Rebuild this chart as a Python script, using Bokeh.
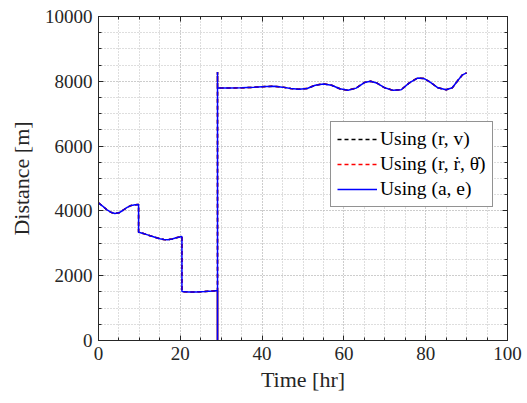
from bokeh.plotting import figure
from bokeh.models import SingleIntervalTicker, LinearAxis, Range1d, Legend, LegendItem, CustomJSTickFormatter
from bokeh.embed import file_html
from bokeh.resources import INLINE

time_hr = [0, 1, 2, 3, 4, 5, 6, 7, 8, 9, 9.8,
           9.8, 11, 12, 13, 14, 15, 16, 17, 18, 19, 20.4,
           20.4, 22, 24, 26, 28, 29.1,
           29.1, 29.1, 29.1,
           32, 35, 38, 41, 43, 45, 47, 49, 51, 53, 55, 57, 59, 61, 63, 65, 66.5, 68, 70,
           72, 74, 76, 78, 79.5, 81, 83, 85, 86.5, 88, 89, 90]
dist_rv = [4250, 4150, 4040, 3960, 3920, 3940, 4020, 4110, 4170, 4190, 4200,
           3340, 3300, 3260, 3220, 3180, 3140, 3115, 3110, 3130, 3170, 3210,
           1510, 1500, 1500, 1510, 1530, 1545,
           0, 8290, 7790,
           7795, 7800, 7815, 7840, 7845, 7820, 7780, 7755, 7780, 7880, 7920, 7880, 7770, 7725, 7790, 7960, 8000, 7950, 7800,
           7720, 7740, 7950, 8100, 8090, 7980, 7800, 7740, 7800, 8050, 8200, 8260]
dist_rdot = list(dist_rv)
dist_ae = list(dist_rv)

labels = ["Using (r, v)", "Using (r, \u1e59, \u03b8\u0307)", "Using (a, e)"]
x_ticks = [0, 20, 40, 60, 80, 100]
y_ticks = [0, 2000, 4000, 6000, 8000, 10000]

FONT = "Liberation Serif"
W, H = 527, 403
p = figure(width=W, height=H, output_backend="svg", toolbar_location=None,
           x_range=Range1d(0, 100), y_range=Range1d(0, 10000),
           min_border_left=98, min_border_right=20, min_border_top=16, min_border_bottom=63)
p.background_fill_color = "white"
p.border_fill_color = "white"
p.outline_line_color = None

r1 = p.line(time_hr, dist_rv, line_color="black", line_dash="4 3", line_width=1.5)
r2 = p.line(time_hr, dist_rdot, line_color="#ff0000", line_dash="4 3", line_width=1.5)
r3 = p.line(time_hr, dist_ae, line_color="#0000ff", line_width=1.5)

xt = SingleIntervalTicker(interval=20, num_minor_ticks=4)
yt = SingleIntervalTicker(interval=2000, num_minor_ticks=4)

for ax in p.xaxis + p.yaxis:
    ax.major_tick_in = 5
    ax.major_tick_out = 0
    ax.minor_tick_in = 3
    ax.minor_tick_out = 0
    ax.axis_line_color = "#262626"
    ax.major_tick_line_color = "#262626"
    ax.minor_tick_line_color = "#262626"
    ax.major_label_text_font = FONT
    ax.major_label_text_font_size = "19px"
    ax.major_label_text_color = "#262626"
    ax.axis_label_text_font = FONT
    ax.axis_label_text_font_size = "22px"
    ax.axis_label_text_font_style = "normal"
    ax.axis_label_text_color = "#262626"
p.xaxis.ticker = xt
p.yaxis.ticker = yt
p.xaxis.axis_label = "Time [hr]"
p.yaxis.axis_label = "Distance [m]"
p.xaxis.major_label_standoff = 6
p.yaxis.major_label_standoff = 6
p.xaxis.axis_label_standoff = 4
p.yaxis.axis_label_standoff = 8

for loc in ["right", "above"]:
    ax = LinearAxis(ticker=SingleIntervalTicker(interval=20, num_minor_ticks=4) if loc == "above"
                    else SingleIntervalTicker(interval=2000, num_minor_ticks=4),
                    formatter=CustomJSTickFormatter(code="return ''"))
    ax.major_label_standoff = 0
    ax.major_tick_in = 5
    ax.major_tick_out = 0
    ax.minor_tick_in = 3
    ax.minor_tick_out = 0
    ax.axis_line_color = "#262626"
    ax.major_tick_line_color = "#262626"
    ax.minor_tick_line_color = "#262626"
    p.add_layout(ax, loc)

for g in p.grid:
    g.grid_line_color = "#bdbdbd"
    g.grid_line_dash = "1 2"
    g.grid_line_width = 1
    g.minor_grid_line_color = "#bdbdbd"
    g.minor_grid_line_dash = "1 2"
    g.minor_grid_line_width = 1
p.xgrid.ticker = xt
p.ygrid.ticker = yt

legend = Legend(items=[LegendItem(label=labels[0], renderers=[r1]),
                       LegendItem(label=labels[1], renderers=[r2]),
                       LegendItem(label=labels[2], renderers=[r3])],
                location=(232, 133))
legend.label_text_font = FONT
legend.label_text_font_size = "19.5px"
legend.label_text_color = "black"
legend.glyph_width = 40
legend.glyph_height = 20
legend.label_height = 20
legend.spacing = 3
legend.padding = 6
legend.margin = 0
legend.label_standoff = 3
legend.border_line_color = "#262626"
legend.border_line_width = 1.5
legend.background_fill_alpha = 1
p.add_layout(legend, "center")

open("out.html", "w").write(file_html(p, INLINE))
